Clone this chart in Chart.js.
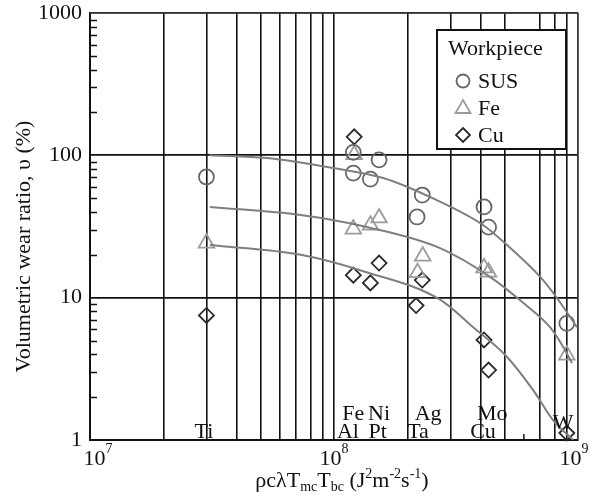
<!DOCTYPE html>
<html>
<head>
<meta charset="utf-8">
<script src="https://cdn.jsdelivr.net/npm/chart.js@4.4.1/dist/chart.umd.min.js"></script>
<style>
  html, body { margin: 0; padding: 0; background: #fff; }
</style>
</head>
<body>
<canvas id="c" width="590" height="497"></canvas>
<script>
// values
const xTicks = [1e7, 2e7, 3e7, 4e7, 5e7, 6e7, 7e7, 8e7, 9e7,
                1e8, 2e8, 3e8, 4e8, 5e8, 7e8, 8e8, 9e8, 1e9];
const yTicks = [1, 2, 3, 4, 5, 6, 7, 8, 9,
                10, 20, 30, 40, 50, 60, 70, 80, 90,
                100, 200, 300, 400, 500, 600, 700, 800, 900, 1000];
const yLabels = [1, 10, 100, 1000];
const xExponents = [7, 8, 9];

const susX = [3e7, 1.2e8, 1.53e8, 1.2e8, 1.41e8, 2.3e8, 2.19e8, 4.12e8, 4.3e8, 9.0e8];
const susY = [70.5, 105, 93, 75, 68, 52.6, 36.9, 43.4, 31.3, 6.6];
const feX  = [3e7, 1.21e8, 1.2e8, 1.41e8, 1.53e8, 2.31e8, 2.2e8, 4.12e8, 4.3e8, 9.0e8];
const feY  = [24.2, 101, 30.3, 32.3, 36.3, 19.6, 15, 16.2, 15.1, 3.95];
const cuX  = [3e7, 1.21e8, 1.2e8, 1.41e8, 1.53e8, 2.3e8, 2.17e8, 4.12e8, 4.3e8, 9.0e8];
const cuY  = [7.5, 135, 14.4, 12.7, 17.5, 13.3, 8.8, 5.05, 3.1, 1.12];

// fitted curves
const susFitX = [3.1e7, 5.3e7, 9.9e7, 1.59e8, 2.6e8, 4.08e8, 5.12e8, 7e8, 8.2e8, 9.9e8];
const susFitY = [100, 95.7, 81.5, 69.3, 49, 32.4, 23.4, 14, 9.95, 6.2];
const feFitX  = [3.1e7, 7.3e7, 1.36e8, 2.72e8, 4.36e8, 5.96e8, 7.68e8, 8.7e8, 9.45e8];
const feFitY  = [43.4, 38.1, 31.4, 22.3, 14, 9.2, 6.2, 4.5, 3.47];
const cuFitX  = [3.1e7, 7.3e7, 1.36e8, 2.72e8, 3.72e8, 5.12e8, 6.55e8, 7.9e8, 9.55e8];
const cuFitY  = [23.4, 20, 15.1, 9.7, 6.2, 3.83, 2.24, 1.38, 1.0];

// tool materials written along the bottom (row 1 = upper line)
const matNames = ['Ti', 'Al', 'Fe', 'Ni', 'Pt', 'Ag', 'Ta', 'Mo', 'Cu', 'W'];
const matX     = [2.93e7, 1.14e8, 1.2e8, 1.53e8, 1.51e8, 2.43e8, 2.21e8, 4.45e8, 4.08e8, 8.69e8];
const matRow   = [0, 0, 1, 1, 0, 1, 0, 1, 0, 0.5];

const legendNames = ['SUS', 'Fe', 'Cu'];

const SERIF = '"Liberation Serif", "DejaVu Serif", serif';
const C_SUS = '#666', C_FE = '#9c9c9c', C_CU = '#2a2a2a', C_FIT = '#7f7f7f';

const pts = (xs, ys) => xs.map((x, i) => ({ x, y: ys[i] }));
const isDecade = v => Math.abs(Math.log10(v) - Math.round(Math.log10(v))) < 1e-9;

function marker(ctx, style, x, y, color) {
  ctx.save();
  ctx.strokeStyle = color;
  ctx.lineWidth = 1.8;
  ctx.beginPath();
  if (style === 'circle') {
    ctx.arc(x, y, 6.5, 0, Math.PI * 2);
  } else if (style === 'triangle') {
    ctx.moveTo(x, y - 8); ctx.lineTo(x + 7.5, y + 5); ctx.lineTo(x - 7.5, y + 5); ctx.closePath();
  } else {
    ctx.moveTo(x, y - 7); ctx.lineTo(x + 7, y); ctx.lineTo(x, y + 7); ctx.lineTo(x - 7, y); ctx.closePath();
  }
  ctx.stroke();
  ctx.restore();
}

const decor = {
  id: 'decor',
  beforeDatasetsDraw(chart) {
    const { ctx, chartArea: a, scales: { x, y } } = chart;
    ctx.save();
    ctx.strokeStyle = '#111';
    ctx.lineWidth = 1.5;
    ctx.beginPath();
    yTicks.forEach(v => {
      if (isDecade(v)) return;
      const py = Math.round(y.getPixelForValue(v)) + 0.5;
      ctx.moveTo(a.left, py); ctx.lineTo(a.left + 7, py);
    });
    const p6 = x.getPixelForValue(6e8);
    ctx.moveTo(p6, a.bottom); ctx.lineTo(p6, a.bottom - 6);
    ctx.stroke();
    // top and right frame
    ctx.strokeStyle = '#555';
    ctx.lineWidth = 1.2;
    ctx.beginPath();
    ctx.moveTo(a.left, a.top); ctx.lineTo(a.right, a.top); ctx.lineTo(a.right, a.bottom);
    ctx.stroke();
    ctx.restore();
  },
  afterDraw(chart) {
    const { ctx, chartArea: a, scales: { x, y } } = chart;
    ctx.save();
    ctx.fillStyle = '#111';

    // y tick labels
    ctx.font = '22px ' + SERIF;
    ctx.textAlign = 'right';
    ctx.textBaseline = 'middle';
    yLabels.forEach(v => ctx.fillText(String(v), a.left - 8, y.getPixelForValue(v)));

    // x tick labels 10^n
    ctx.textBaseline = 'alphabetic';
    xExponents.forEach(e => {
      const nudge = e === 7 ? 8 : e === 9 ? -4 : 0;
      const px = x.getPixelForValue(Math.pow(10, e)) + nudge;
      ctx.font = '22px ' + SERIF;
      const w1 = ctx.measureText('10').width;
      ctx.font = '14px ' + SERIF;
      const w2 = ctx.measureText(String(e)).width;
      const x0 = px - (w1 + w2) / 2;
      ctx.textAlign = 'left';
      ctx.font = '22px ' + SERIF;
      ctx.fillText('10', x0, a.bottom + 25);
      ctx.font = '14px ' + SERIF;
      ctx.fillText(String(e), x0 + w1, a.bottom + 13);
    });

    // material labels
    ctx.font = '22px ' + SERIF;
    ctx.textAlign = 'center';
    matNames.forEach((n, i) => {
      const base = a.bottom - 2 - matRow[i] * 18;
      ctx.fillText(n, x.getPixelForValue(matX[i]), base);
    });

    // x axis title with sub/superscripts
    const parts = [
      ['ρcλT', 0], ['mc', 1], ['T', 0], ['bc', 1], [' (J', 0], ['2', 2],
      ['m', 0], ['-2', 2], ['s', 0], ['-1', 2], [')', 0]
    ];
    const fontFor = k => (k === 0 ? '22px ' : '14px ') + SERIF;
    let total = 0;
    parts.forEach(([t, k]) => { ctx.font = fontFor(k); total += ctx.measureText(t).width; });
    let cx = (a.left + a.right) / 2 - total / 2 + 8;
    const baseY = a.bottom + 47;
    ctx.textAlign = 'left';
    parts.forEach(([t, k]) => {
      ctx.font = fontFor(k);
      const dy = k === 1 ? 4 : k === 2 ? -9 : 0;
      ctx.fillText(t, cx, baseY + dy);
      cx += ctx.measureText(t).width;
    });

    // y axis title
    ctx.save();
    ctx.translate(24, (a.top + a.bottom) / 2 + 20);
    ctx.rotate(-Math.PI / 2);
    ctx.font = '22px ' + SERIF;
    ctx.textAlign = 'center';
    ctx.textBaseline = 'middle';
    ctx.fillText('Volumetric wear ratio, υ (%)', 0, 0);
    ctx.restore();

    // legend box
    const lx = 437, ly = 30, lw = 129, lh = 119;
    ctx.fillStyle = '#fff';
    ctx.fillRect(lx, ly, lw, lh);
    ctx.strokeStyle = '#111';
    ctx.lineWidth = 2;
    ctx.strokeRect(lx, ly, lw, lh);
    ctx.fillStyle = '#111';
    ctx.font = '22px ' + SERIF;
    ctx.textAlign = 'left';
    ctx.textBaseline = 'alphabetic';
    ctx.fillText('Workpiece', lx + 11, ly + 25);
    const styles = ['circle', 'triangle', 'rectRot'];
    const cols = [C_SUS, C_FE, C_CU];
    legendNames.forEach((n, i) => {
      const my = ly + 51 + i * 27;
      marker(ctx, styles[i], lx + 26, my, cols[i]);
      ctx.fillStyle = '#111';
      ctx.fillText(n, lx + 41, my + 7);
    });
    ctx.restore();
  }
};

const fit = (xs, ys) => ({
  type: 'line', data: pts(xs, ys), showLine: true, borderColor: C_FIT, borderWidth: 2,
  pointRadius: 0, tension: 0.4, cubicInterpolationMode: 'monotone', fill: false
});
const marks = (xs, ys, style, color, r) => ({
  type: 'scatter', data: pts(xs, ys), showLine: false, pointStyle: style, pointRadius: r,
  borderColor: color, backgroundColor: 'rgba(0,0,0,0)', borderWidth: 1.8, clip: false
});

new Chart(document.getElementById('c').getContext('2d'), {
  type: 'scatter',
  data: {
    datasets: [
      fit(susFitX, susFitY),
      fit(feFitX, feFitY),
      fit(cuFitX, cuFitY),
      marks(susX, susY, 'circle', C_SUS, 7.5),
      marks(feX, feY, 'triangle', C_FE, 9),
      marks(cuX, cuY, 'rectRot', C_CU, 7.5)
    ]
  },
  options: {
    responsive: false,
    animation: false,
    events: [],
    layout: { padding: { left: 90, right: 12, top: 13, bottom: 57 } },
    plugins: { legend: { display: false }, tooltip: { enabled: false } },
    scales: {
      x: {
        type: 'logarithmic', min: 1e7, max: 1e9,
        afterBuildTicks: s => { s.ticks = xTicks.map(v => ({ value: v })); },
        ticks: { display: false },
        grid: { color: '#111', lineWidth: 1.6, drawTicks: false },
        border: { display: true, color: '#111', width: 2 }
      },
      y: {
        type: 'logarithmic', min: 1, max: 1000,
        afterBuildTicks: s => { s.ticks = yTicks.map(v => ({ value: v })); },
        ticks: { display: false },
        grid: {
          color: c => (c.tick && isDecade(c.tick.value)) ? '#111' : 'rgba(0,0,0,0)',
          lineWidth: 1.8, drawTicks: false
        },
        border: { display: true, color: '#111', width: 2 }
      }
    }
  },
  plugins: [decor]
});
</script>
</body>
</html>
